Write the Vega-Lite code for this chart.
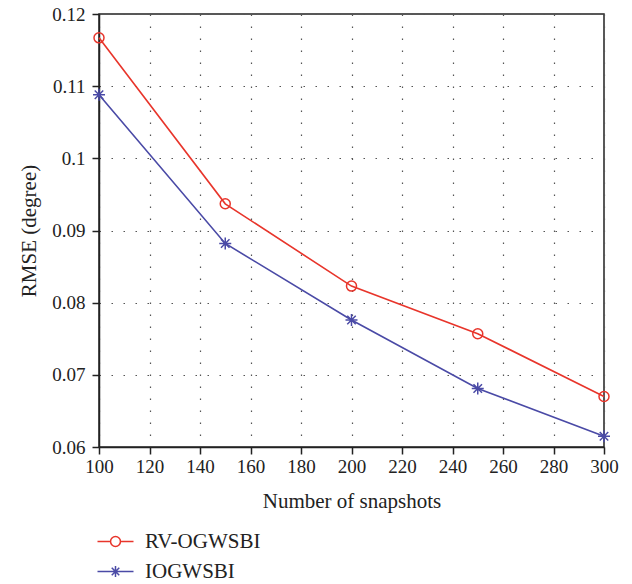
{
  "$schema": "https://vega.github.io/schema/vega-lite/v6.json",
  "width": 505,
  "height": 433,
  "autosize": {"type": "none"},
  "padding": {"left": 99, "top": 14, "right": 28, "bottom": 137},
  "background": "white",
  "config": {
    "font": "Liberation Serif",
    "view": {"stroke": "#222", "strokeWidth": 1.5},
    "axis": {
      "labelFont": "Liberation Serif",
      "titleFont": "Liberation Serif",
      "labelFontSize": 19,
      "titleFontSize": 21,
      "titleFontWeight": "normal",
      "labelColor": "#222",
      "titleColor": "#222",
      "domainColor": "#222",
      "domainWidth": 1.5,
      "tickColor": "#222",
      "tickWidth": 1.5,
      "tickSize": 7,
      "grid": true,
      "gridColor": "#555",
      "gridDash": [1.5, 10.5],
      "gridWidth": 1.2
    },
    "legend": {
      "orient": "none",
      "legendX": 6,
      "legendY": 517,
      "padding": 0,
      "rowPadding": 8,
      "symbolSize": 324,
      "symbolStrokeWidth": 1.5,
      "symbolOpacity": 1,
      "symbolFillColor": "transparent",
      "labelFont": "Liberation Serif",
      "labelFontSize": 21,
      "labelColor": "#222",
      "labelOffset": 19
    }
  },
  "data": {
    "values": [
      {"snapshots": 100, "rmse": 0.1167, "method": "RV-OGWSBI"},
      {"snapshots": 150, "rmse": 0.0937, "method": "RV-OGWSBI"},
      {"snapshots": 200, "rmse": 0.0823, "method": "RV-OGWSBI"},
      {"snapshots": 250, "rmse": 0.0757, "method": "RV-OGWSBI"},
      {"snapshots": 300, "rmse": 0.0670, "method": "RV-OGWSBI"},
      {"snapshots": 100, "rmse": 0.1088, "method": "IOGWSBI"},
      {"snapshots": 150, "rmse": 0.0882, "method": "IOGWSBI"},
      {"snapshots": 200, "rmse": 0.0776, "method": "IOGWSBI"},
      {"snapshots": 250, "rmse": 0.0681, "method": "IOGWSBI"},
      {"snapshots": 300, "rmse": 0.0615, "method": "IOGWSBI"}
    ]
  },
  "encoding": {
    "x": {
      "field": "snapshots",
      "type": "quantitative",
      "scale": {"domain": [100, 300], "nice": false, "zero": false},
      "axis": {"values": [100, 120, 140, 160, 180, 200, 220, 240, 260, 280, 300], "title": "Number of snapshots", "labelPadding": 3, "titlePadding": 14, "labelFlush": false}
    },
    "y": {
      "field": "rmse",
      "type": "quantitative",
      "scale": {"domain": [0.06, 0.12], "nice": false, "zero": false},
      "axis": {"values": [0.06, 0.07, 0.08, 0.09, 0.1, 0.11, 0.12], "title": "RMSE (degree)", "labelExpr": "format(datum.value, '.2~f')", "labelPadding": 7, "titlePadding": 12, "labelFlush": false}
    },
    "color": {
      "field": "method",
      "type": "nominal",
      "scale": {"domain": ["RV-OGWSBI", "IOGWSBI"], "range": ["#e8352b", "#4a4aa6"]},
      "legend": {"title": null}
    }
  },
  "layer": [
    {
      "mark": {"type": "line", "strokeWidth": 1.6}
    },
    {
      "transform": [{"filter": "datum.method == 'RV-OGWSBI'"}],
      "mark": {"type": "point", "shape": "circle", "filled": false, "strokeWidth": 1.5, "opacity": 1, "size": 100}
    },
    {
      "transform": [{"filter": "datum.method == 'IOGWSBI'"}],
      "mark": {"type": "point", "shape": "M-1.2,0L1.2,0M0,-1.2L0,1.2M-0.85,-0.85L0.85,0.85M-0.85,0.85L0.85,-0.85", "filled": false, "strokeWidth": 1.5, "opacity": 1, "size": 100}
    },
    {
      "transform": [{"filter": "false"}],
      "mark": {"type": "point", "filled": false, "strokeWidth": 1.5, "opacity": 1},
      "encoding": {
        "shape": {
          "field": "method",
          "type": "nominal",
          "scale": {"domain": ["RV-OGWSBI", "IOGWSBI"], "range": ["M-2,0L-0.55,0M0.55,0L2,0M0.55,0A0.55,0.55,0,1,1,-0.55,0A0.55,0.55,0,1,1,0.55,0", "M-2,0L2,0M0,-0.6L0,0.6M-0.42,-0.42L0.42,0.42M-0.42,0.42L0.42,-0.42"]},
          "legend": {"title": null}
        }
      }
    }
  ]
}
